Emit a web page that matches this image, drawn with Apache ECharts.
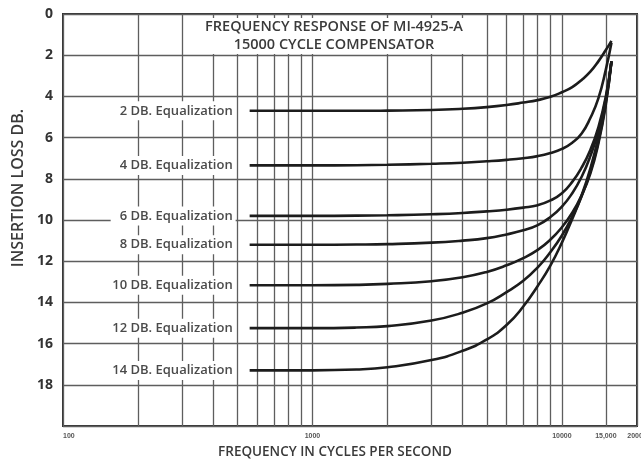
<!DOCTYPE html>
<html>
<head>
<meta charset="utf-8">
<script src="https://cdn.jsdelivr.net/npm/echarts@6/dist/echarts.min.js"></script>
<style>
    html, body { margin: 0; padding: 0; background: #fff; }
    #chart-pane { width: 641px; height: 460px; }
</style>
</head>
<body>
<div id="chart-pane"></div>
<script>
    // frequencies (Hz) shared by every curve
    var freqHz = [560, 1000, 1500, 2000, 3000, 4000, 5000, 6000, 7000, 8000, 9000, 10000, 11000, 12000, 13000, 14000, 15000, 15800];

    // insertion loss (dB)
    var loss2  = [4.7, 4.7, 4.7, 4.69, 4.66, 4.6, 4.52, 4.42, 4.3, 4.18, 4.02, 3.8, 3.55, 3.2, 2.8, 2.3, 1.75, 1.3];
    var loss4  = [7.35, 7.35, 7.34, 7.32, 7.27, 7.22, 7.15, 7.08, 7.0, 6.9, 6.75, 6.55, 6.25, 5.8, 5.05, 4.1, 2.7, 1.4];
    var loss6  = [9.8, 9.8, 9.79, 9.77, 9.72, 9.66, 9.58, 9.5, 9.4, 9.28, 9.05, 8.7, 8.15, 7.45, 6.6, 5.5, 4.0, 2.3];
    var loss8  = [11.2, 11.2, 11.19, 11.17, 11.1, 11.0, 10.88, 10.7, 10.5, 10.25, 9.85, 9.35, 8.7, 7.9, 6.9, 5.7, 4.1, 2.3];
    var loss10 = [13.17, 13.17, 13.15, 13.1, 12.97, 12.78, 12.52, 12.2, 11.85, 11.45, 10.95, 10.35, 9.65, 8.8, 7.75, 6.3, 4.4, 2.3];
    var loss12 = [15.25, 15.25, 15.22, 15.15, 14.88, 14.5, 14.05, 13.5, 12.95, 12.3, 11.55, 10.75, 9.85, 8.85, 7.65, 6.2, 4.3, 2.3];
    var loss14 = [17.3, 17.3, 17.26, 17.15, 16.8, 16.35, 15.8, 15.1, 14.2, 13.2, 12.2, 11.1, 9.95, 8.8, 7.5, 6.0, 4.2, 2.3];

    var curveNames = ['2 DB. Equalization', '4 DB. Equalization', '6 DB. Equalization', '8 DB. Equalization',
        '10 DB. Equalization', '12 DB. Equalization', '14 DB. Equalization'];
    var curveLoss = [loss2, loss4, loss6, loss8, loss10, loss12, loss14];

    // axis ticks
    var xGridHz = [100, 200, 300, 400, 500, 600, 700, 800, 900, 1000, 2000, 3000, 4000, 5000, 6000, 7000, 8000, 9000, 10000, 15000, 20000];
    var xLabelHz = [100, 1000, 10000, 15000, 20000];
    var xLabelText = ['100', '1000', '10000', '15,000', '20000'];
    var yLabelDb = [0, 2, 4, 6, 8, 10, 12, 14, 16, 18];

    var chartDom = document.getElementById('chart-pane');
    var chart = echarts.init(chartDom);

    var series = curveLoss.map(function (loss, i) {
        var data = freqHz.map(function (f, j) {
            var item = { value: [f, loss[j]] };
            if (j === 0) {
                item.label = {
                    show: true,
                    position: 'left',
                    distance: 14,
                    formatter: curveNames[i],
                    color: '#4a4a4a',
                    fontSize: 13,
                    fontWeight: 600,
                    fontFamily: 'Open Sans',
                    backgroundColor: '#fff',
                    padding: [3, 3, 3, 9]
                };
            }
            return item;
        });
        return {
            name: curveNames[i],
            type: 'line',
            data: data,
            smooth: 0.5,
            showSymbol: true,
            symbol: 'circle',
            symbolSize: 0,
            silent: true,
            label: { show: false },
            lineStyle: { color: '#1c1c1c', width: 2.6 },
            z: 3
        };
    });

    var option = {
        backgroundColor: '#fff',
        animation: false,
        title: {
            text: 'FREQUENCY RESPONSE OF MI-4925-A\n15000 CYCLE COMPENSATOR',
            left: 324,
            top: 18,
            textAlign: 'center',
            padding: [0, 10, 0, 10],
            backgroundColor: '#fff',
            textStyle: {
                fontFamily: 'Open Sans',
                fontSize: 14.5,
                fontWeight: 600,
                color: '#3a3a3a',
                lineHeight: 18
            }
        },
        grid: {
            left: 63,
            right: 4,
            top: 14,
            bottom: 34,
            outerBoundsMode: 'none',
            containLabel: false,
            show: true,
            borderColor: '#333',
            borderWidth: 2,
            backgroundColor: '#fff'
        },
        xAxis: {
            type: 'log',
            logBase: 10,
            min: 100,
            max: 20000,
            name: 'FREQUENCY IN CYCLES PER SECOND',
            nameLocation: 'middle',
            nameGap: 19,
            nameTextStyle: {
                fontFamily: 'Open Sans',
                fontSize: 13.5,
                fontWeight: 600,
                color: '#3a3a3a',
                padding: [0, 30, 0, 0]
            },
            axisLine: { show: false },
            axisTick: { show: false, customValues: xGridHz },
            axisLabel: {
                customValues: xLabelHz,
                margin: 7,
                fontSize: 7,
                fontWeight: 'bold',
                color: '#555',
                alignMinLabel: 'left',
                hideOverlap: false,
                formatter: function (v) {
                    var k = xLabelHz.indexOf(Math.round(v));
                    return k >= 0 ? xLabelText[k] : '';
                }
            },
            splitLine: { show: true, lineStyle: { color: '#5e5e5e', width: 1.3 } }
        },
        yAxis: {
            type: 'value',
            inverse: true,
            min: 0,
            max: 20,
            interval: 2,
            name: 'INSERTION LOSS DB.',
            nameLocation: 'middle',
            nameGap: 33,
            nameTextStyle: {
                fontFamily: 'Open Sans',
                fontSize: 16,
                fontWeight: 600,
                color: '#3a3a3a',
                padding: [0, 0, 0, 64]
            },
            axisLine: { show: false },
            axisTick: { show: false },
            axisLabel: {
                margin: 10,
                fontSize: 14,
                fontWeight: 'bold',
                fontFamily: 'Open Sans',
                color: '#333',
                formatter: function (v) {
                    return yLabelDb.indexOf(v) >= 0 ? String(v) : '';
                }
            },
            splitLine: { show: true, lineStyle: { color: '#5e5e5e', width: 1.3 } }
        },
        series: series
    };

    chart.setOption(option);
</script>
</body>
</html>
